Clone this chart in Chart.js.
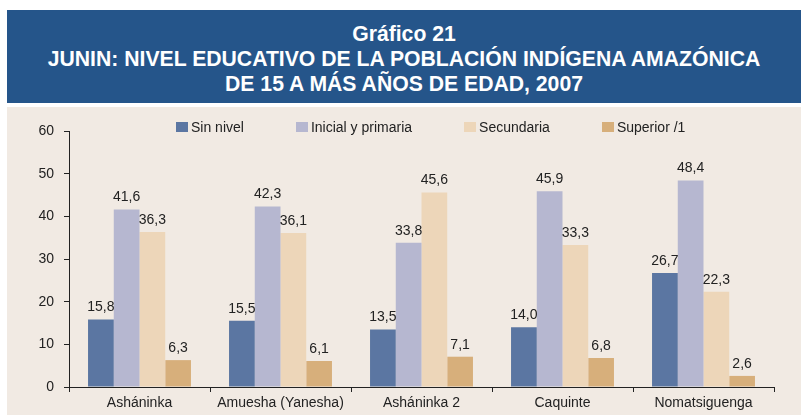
<!DOCTYPE html>
<html>
<head>
<meta charset="utf-8">
<script src="https://cdn.jsdelivr.net/npm/chart.js"></script>
<style>
  body { margin: 0; background: #fff; width: 801px; height: 415px; position: relative; overflow: hidden;
         font-family: "Liberation Sans", Arial, sans-serif; }
  #banner { position: absolute; left: 7px; top: 10px; width: 794px; height: 93px; background: #25558A;
            color: #fff; font-weight: bold; font-size: 21.2px; text-align: center; }
  #banner div { height: 25px; line-height: 25px; }
  #panel { position: absolute; left: 7px; top: 107px; width: 794px; height: 308px; background: #F1EAE3; }
  #legend { position: absolute; left: 169px; top: 12px; display: flex; gap: 52px; font-size: 14px; color: #222; }
  #legend span.item { display: flex; align-items: center; }
  #legend span.box { display: inline-block; width: 12px; height: 10px; margin-right: 3px; }
</style>
</head>
<body>
<div id="banner">
  <div style="margin-top:11px">Gráfico 21</div>
  <div>JUNIN: NIVEL EDUCATIVO DE LA POBLACIÓN INDÍGENA AMAZÓNICA</div>
  <div>DE 15 A MÁS AÑOS DE EDAD, 2007</div>
</div>
<div id="panel">
  <canvas id="myChart" width="794" height="308"></canvas>
  <div id="legend"></div>
</div>
<script>
// datos
const categories = ['Asháninka', 'Amuesha (Yanesha)', 'Asháninka 2', 'Caquinte', 'Nomatsiguenga'];
const sinNivel   = [15.8, 15.5, 13.5, 14.0, 26.7];
const primaria   = [41.6, 42.3, 33.8, 45.9, 48.4];
const secundaria = [36.3, 36.1, 45.6, 33.3, 22.3];
const superior   = [6.3, 6.1, 7.1, 6.8, 2.6];
const yTicks = [0, 10, 20, 30, 40, 50, 60];

const seriesNames = ['Sin nivel', 'Inicial y primaria', 'Secundaria', 'Superior /1'];
const colors = ['#5B76A2', '#B6B7D0', '#EDD6B9', '#D7AF7B'];

// legend in html
const legendEl = document.getElementById('legend');
seriesNames.forEach((name, i) => {
    const item = document.createElement('span');
    item.className = 'item';
    item.innerHTML = '<span class="box" style="background:' + colors[i] + '"></span>' + name;
    legendEl.appendChild(item);
});

// value labels above bars
const valueLabels = {
    id: 'valueLabels',
    afterDatasetsDraw(chart) {
        const c = chart.ctx;
        c.save();
        c.font = '14px "Liberation Sans", Arial, sans-serif';
        c.fillStyle = '#222';
        c.textAlign = 'center';
        c.textBaseline = 'bottom';
        chart.data.datasets.forEach((ds, i) => {
            chart.getDatasetMeta(i).data.forEach((bar, j) => {
                c.fillText(ds.data[j].toFixed(1).replace('.', ','), bar.x, bar.y - 5);
            });
        });
        c.restore();
    }
};

const ctx = document.getElementById('myChart').getContext('2d');
const myChart = new Chart(ctx, {
    type: 'bar',
    data: {
        labels: categories,
        datasets: [sinNivel, primaria, secundaria, superior].map((d, i) => ({
            label: seriesNames[i],
            data: d,
            backgroundColor: colors[i],
            barPercentage: 1,
            categoryPercentage: 0.73
        }))
    },
    options: {
        responsive: false,
        animation: false,
        layout: { padding: { top: 24, right: 27, left: 0, bottom: 0 } },
        plugins: {
            legend: { display: false },
            tooltip: { enabled: false }
        },
        scales: {
            x: {
                afterFit: s => { s.height = 28; },
                grid: { offset: true, drawOnChartArea: false, drawTicks: true, tickLength: 5, color: '#222' },
                border: { color: '#222', width: 1 },
                ticks: { color: '#222', font: { size: 14, family: '"Liberation Sans", Arial' }, padding: 3, maxRotation: 0 }
            },
            y: {
                min: 0,
                max: 60,
                afterFit: s => { s.width = 62; },
                afterBuildTicks: s => { s.ticks = yTicks.map(v => ({ value: v })); },
                grid: { drawOnChartArea: false, drawTicks: true, tickLength: 5, color: '#222' },
                border: { color: '#222', width: 1 },
                ticks: { color: '#222', font: { size: 14, family: '"Liberation Sans", Arial' }, padding: 10 }
            }
        }
    },
    plugins: [valueLabels]
});
</script>
</body>
</html>
